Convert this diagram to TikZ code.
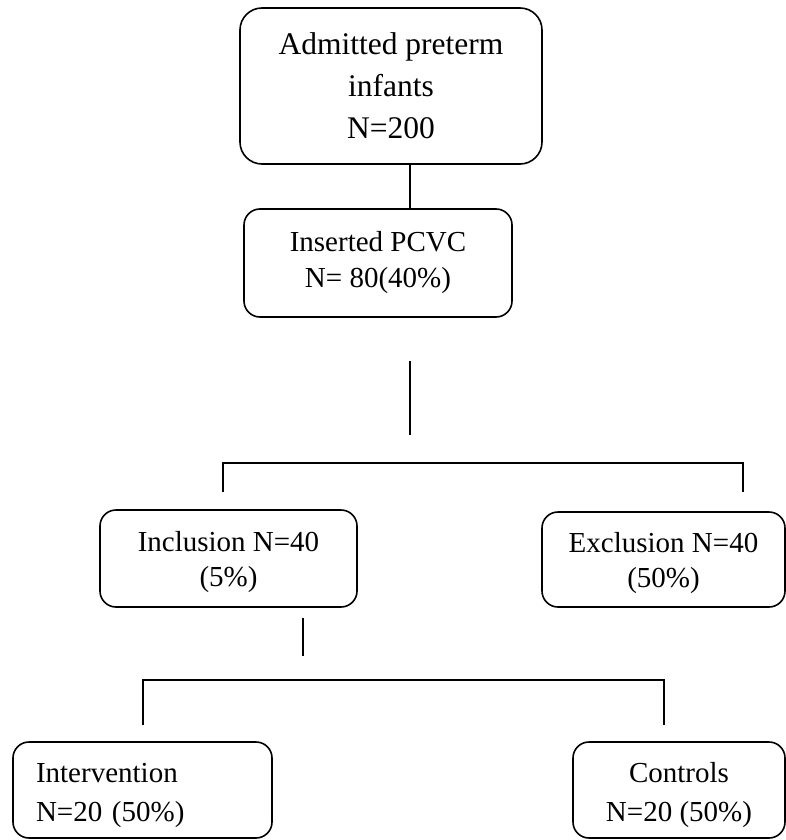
\documentclass[tikz,border=0pt]{standalone}
\usepackage{fontspec}
\setmainfont{Liberation Serif}
\usetikzlibrary{positioning}

\tikzset{
  box/.style={draw, line width=1.6pt, rounded corners=16pt, inner sep=0pt, align=center,
    font=\fontsize{29}{36}\selectfont},
  link/.style={line width=1.6pt},
}
% extra room above the first line, pushes the text a bit down
\newcommand{\lift}[1]{\rule{0pt}{#1}}

\begin{document}
\begin{tikzpicture}[x=1pt,y=-1pt]
  \useasboundingbox (0,0) rectangle (786,840);
% boxes
  \node[box, rounded corners=22pt, minimum width=302pt, minimum height=156pt,
    font=\fontsize{31.5}{42}\selectfont] (admit) at (391,86) {Admitted preterm\\infants\\N=200};
  \node[box, minimum width=268pt, minimum height=108pt] (pcvc) at (378,263) {Inserted PCVC\\N= 80(40\%)};
  \node[box, minimum width=257pt, minimum height=97pt,
    font=\fontsize{29}{35}\selectfont] (incl) at (228.5,558.5) {\lift{27pt}Inclusion N=40\\(5\%)};
  \node[box, minimum width=243pt, minimum height=95pt,
    font=\fontsize{29}{35}\selectfont] (excl) at (663.5,559.5) {\lift{27pt}Exclusion N=40\\(50\%)};
  \node[box, minimum width=259pt, minimum height=96pt, text width=213pt, inner xsep=23pt,
    align=left, font=\fontsize{29}{39}\selectfont] (interv) at (142.5,790) {\lift{31pt}Intervention\\N=20 (50\%)};
  \node[box, minimum width=212pt, minimum height=96pt,
    font=\fontsize{29}{39}\selectfont] (ctrl) at (679,790) {\lift{31pt}Controls\\N=20 (50\%)};
% admitted -> inserted
  \coordinate (trunk) at (410,0);
  \draw[link] (admit.south -| trunk) -- (pcvc.north -| trunk);
% split into inclusion / exclusion
  \coordinate (stemtop) at (410,361);
  \coordinate (stembot) at (410,435);
  \draw[link] (stemtop) -- (stembot);
  \coordinate (incltick) at (223,492);
  \coordinate (excltick) at (743,492);
  \draw[link] (incltick) -- (223,463) -- (743,463) -- (excltick);
% split into intervention / controls
  \coordinate (subtop) at (303,618);
  \coordinate (subbot) at (303,656);
  \draw[link] (subtop) -- (subbot);
  \coordinate (intervtick) at (143,725);
  \coordinate (ctrltick) at (664,725);
  \draw[link] (intervtick) -- (143,680) -- (664,680) -- (ctrltick);
\end{tikzpicture}
\end{document}
